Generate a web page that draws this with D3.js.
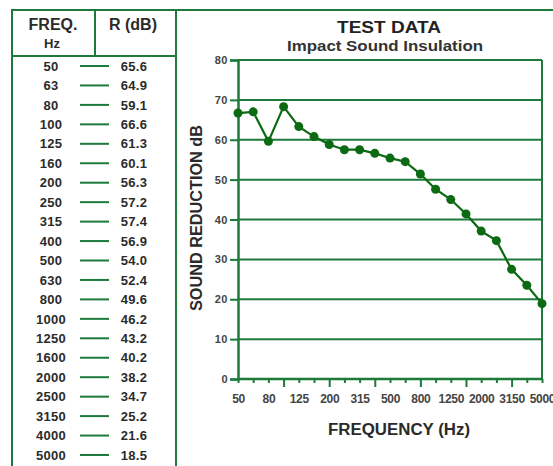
<!DOCTYPE html>
<html><head><meta charset="utf-8">
<script src="https://cdn.jsdelivr.net/npm/d3@7"></script>
<style>
html,body{margin:0;padding:0;background:#fff;}
svg{display:block;font-family:"Liberation Sans",Arial,sans-serif;}
</style></head>
<body>
<svg id="c" width="553" height="466"></svg>
<script>
// ---- data ----
const frequencies = ["50","63","80","100","125","160","200","250","315","400","500","630","800","1000","1250","1600","2000","2500","3150","4000","5000"];
const tableValues = [65.6,64.9,59.1,66.6,61.3,60.1,56.3,57.2,57.4,56.9,54.0,52.4,49.6,46.2,43.2,40.2,38.2,34.7,25.2,21.6,18.5];
const plotValues  = [66.7,67.0,59.6,68.3,63.3,60.8,58.8,57.5,57.5,56.6,55.4,54.5,51.4,47.6,45.0,41.4,37.1,34.7,27.5,23.5,18.9];
const xTickLabels = ["50","80","125","200","315","500","800","1250","2000","3150","5000"];
const majorTicks  = ["100","200","400","800","1600","3150"];
const yTicks      = [0,10,20,30,40,50,60,70,80];

const green = "#1c7a3a", dark = "#0b6a12", txt = "#2b2b2b";
const svg = d3.select("#c");

// ---- table ----
const border = (x1,y1,x2,y2)=>svg.append("line").attr("x1",x1).attr("y1",y1).attr("x2",x2).attr("y2",y2)
  .attr("stroke",green).attr("stroke-width",2);
border(11,10,553,10);
border(12,9,12,466);
border(176,9,176,466);
border(95,10,95,56);
border(12,56,176,56);

const hdr = svg.append("g").attr("font-weight","bold").attr("fill",txt).attr("text-anchor","middle");
hdr.append("text").attr("x",53).attr("y",30).attr("font-size",16).text("FREQ.");
hdr.append("text").attr("x",52).attr("y",48).attr("font-size",13).text("Hz");
hdr.append("text").attr("x",133).attr("y",30).attr("font-size",16).text("R (dB)");

const rowY = d3.scalePoint().domain(frequencies).range([66,455]);
const rows = svg.append("g").selectAll("g").data(frequencies).join("g")
  .attr("transform",d=>`translate(0,${rowY(d)})`);
rows.append("text").attr("x",51).attr("dy","0.36em").attr("text-anchor","middle")
  .attr("font-size",13).attr("letter-spacing",0.3).attr("font-weight","bold").attr("fill",txt).text(d=>d);
rows.append("line").attr("x1",80).attr("x2",109).attr("stroke",green).attr("stroke-width",2);
rows.append("text").attr("x",134).attr("dy","0.36em").attr("text-anchor","middle")
  .attr("font-size",13).attr("letter-spacing",0.3).attr("font-weight","bold").attr("fill",txt)
  .text((d,i)=>tableValues[i].toFixed(1));

// ---- chart ----
const x = d3.scalePoint().domain(frequencies).range([238,542]);
const y = d3.scaleLinear().domain([0,80]).range([379,60]);

svg.append("text").attr("x",389).attr("y",33).attr("text-anchor","middle")
  .attr("font-size",17).attr("font-weight","bold").attr("fill","#222")
  .attr("textLength",104).attr("lengthAdjust","spacingAndGlyphs").text("TEST DATA");
svg.append("text").attr("x",385).attr("y",51).attr("text-anchor","middle")
  .attr("font-size",15).attr("font-weight","bold").attr("fill","#333")
  .attr("textLength",196).attr("lengthAdjust","spacingAndGlyphs").text("Impact Sound Insulation");

// gridlines
svg.append("g").selectAll("line").data(yTicks.filter(v=>v>0)).join("line")
  .attr("x1",238).attr("x2",542).attr("y1",d=>y(d)).attr("y2",d=>y(d))
  .attr("stroke",green).attr("stroke-width",2);
// right border
svg.append("line").attr("x1",542).attr("x2",542).attr("y1",y(80)).attr("y2",y(0)).attr("stroke",green).attr("stroke-width",2);

// y axis
const yAxis = svg.append("g").attr("transform","translate(238,0)")
  .call(d3.axisLeft(y).tickValues(yTicks).tickSize(8).tickPadding(2));
yAxis.select(".domain").attr("stroke",green).attr("stroke-width",2.5);
yAxis.selectAll(".tick line").attr("stroke",green).attr("stroke-width",2);
yAxis.selectAll(".tick text").attr("font-size",11).attr("font-weight","bold").attr("fill","#444")
  .attr("letter-spacing",0.5).attr("font-family","Liberation Sans, Arial, sans-serif");

// x axis
const xAxis = svg.append("g").attr("transform",`translate(0,${y(0)})`)
  .call(d3.axisBottom(x).tickSize(4).tickPadding(11).tickFormat(d=>xTickLabels.includes(d)?d:""));
xAxis.select(".domain").attr("stroke",green).attr("stroke-width",2.5).attr("d","M238,0H542");
xAxis.selectAll(".tick line").attr("stroke",green).attr("stroke-width",2)
  .attr("y2",d=>majorTicks.includes(d)?8:4);
xAxis.selectAll(".tick text").attr("font-size",12).attr("font-weight","bold").attr("fill","#444")
  .attr("letter-spacing","-0.3").attr("font-family","Liberation Sans, Arial, sans-serif");

// axis titles
svg.append("text").attr("transform","translate(202,218) rotate(-90)").attr("text-anchor","middle")
  .attr("font-size",16).attr("font-weight","bold").attr("fill","#2a2a2a")
  .attr("textLength",186).attr("lengthAdjust","spacingAndGlyphs").text("SOUND REDUCTION dB");
svg.append("text").attr("x",399).attr("y",435).attr("text-anchor","middle")
  .attr("font-size",16).attr("font-weight","bold").attr("fill","#2a2a2a")
  .attr("textLength",142).attr("lengthAdjust","spacingAndGlyphs").text("FREQUENCY (Hz)");

// series
const line = d3.line().x((d,i)=>x(frequencies[i])).y(d=>y(d));
svg.append("path").datum(plotValues).attr("d",line).attr("fill","none")
  .attr("stroke",dark).attr("stroke-width",2.2);
svg.append("g").selectAll("circle").data(plotValues).join("circle")
  .attr("cx",(d,i)=>x(frequencies[i])).attr("cy",d=>y(d)).attr("r",4.5).attr("fill",dark);
</script>
</body></html>
